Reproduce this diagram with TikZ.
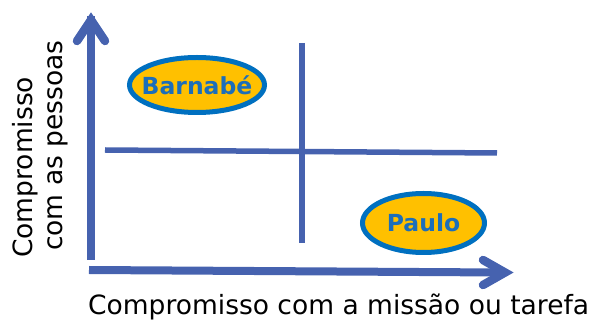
\documentclass[tikz,border=0pt]{standalone}
\usepackage{fontspec}
\setmainfont{DejaVu Sans}
\usetikzlibrary{shapes.geometric}
\definecolor{axisblue}{HTML}{4662AF}
\definecolor{ringblue}{HTML}{0070C0}
\definecolor{namegold}{HTML}{FFC000}
\definecolor{nameblue}{HTML}{1C6EBA}
\tikzset{
  axisline/.style={draw=axisblue, line width=8pt},
  axishead/.style={draw=axisblue, line width=8.5pt, line cap=round, line join=miter},
  divider/.style={draw=axisblue, line width=5.5pt},
  person/.style={ellipse, draw=ringblue, line width=5pt, fill=namegold, inner sep=0pt,
    text=nameblue, font=\fontsize{23.5}{27}\selectfont\bfseries},
  axislabel/.style={inner sep=0pt, font=\fontsize{26.5}{30}\selectfont}
}
\begin{document}
\begin{tikzpicture}[x=1pt,y=-1pt]
\useasboundingbox (0,0) rectangle (598,320);
% axes
\coordinate (vbot) at (91,260);
\coordinate (vtip) at (91,20);
\coordinate (vl) at (77,41);
\coordinate (vr) at (105,41);
\coordinate (hleft) at (89,270);
\coordinate (htip) at (505,272.5);
\coordinate (hu) at (483,260);
\coordinate (hd) at (483,285);
\draw[axisline] (vbot) -- ([yshift=4pt]vtip);
\draw[axishead] (vl) -- (vtip) -- (vr);
\draw[axisline] (hleft) -- ([xshift=-4pt]htip);
\draw[axishead] (hu) -- (htip) -- (hd);
% dividers
\coordinate (dvt) at (302,43);
\coordinate (dvb) at (302,243);
\coordinate (dhl) at (105,150);
\coordinate (dhr) at (497,153);
\draw[divider] (dvt) -- (dvb);
\draw[divider] (dhl) -- (dhr);
% people
\node[person, minimum width=135pt, minimum height=55pt] (barnabe) at (197,85) {\makebox[0pt]{Barnabé}};
\node[person, minimum width=122pt, minimum height=59pt] (paulo) at (423.5,223) {\makebox[0pt]{Paulo}};
% labels
\node[axislabel, anchor=base west] (xlab) at (88,315) {Compromisso com a missão ou tarefa};
\node[axislabel, anchor=base west, rotate=90] (ylab1) at (32,258) {Compromisso};
\node[axislabel, anchor=base west, rotate=90] (ylab2) at (63,251) {com as pessoas};
\end{tikzpicture}
\end{document}
